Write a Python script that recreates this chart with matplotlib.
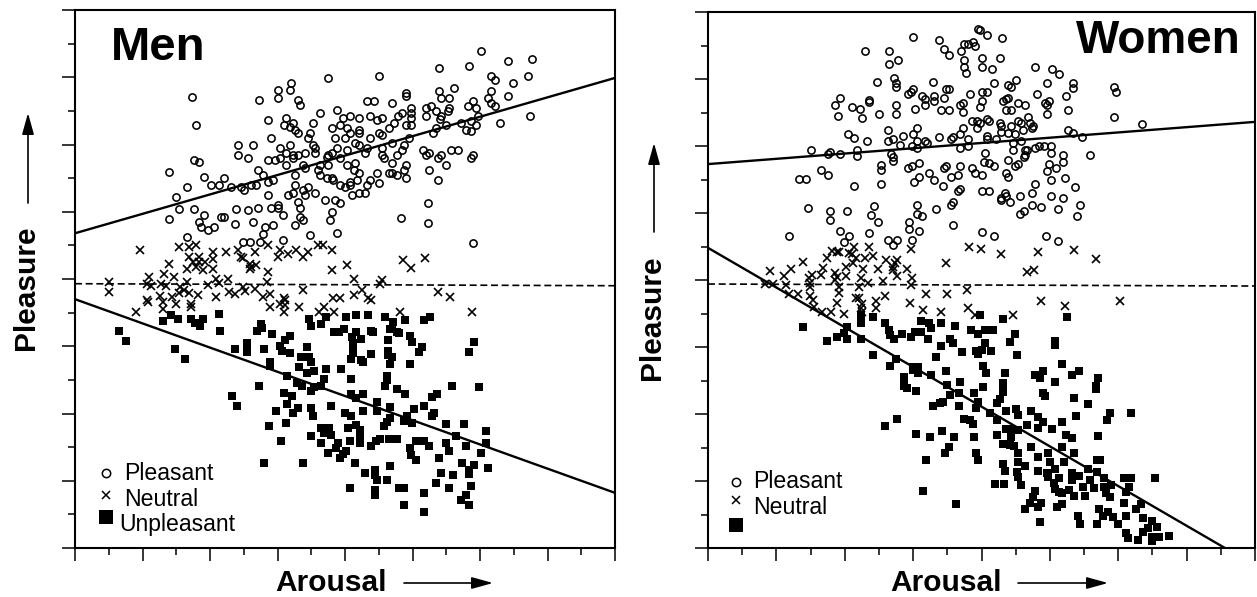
import numpy as np
import matplotlib
matplotlib.use("Agg")
import matplotlib.pyplot as plt
from matplotlib.ticker import MultipleLocator

plt.rcParams['font.family'] = ['Liberation Sans', 'DejaVu Sans']

# Digitised readings (column, row) taken from enlarged crops of the picture.
# "upper" readings come from the top crop of a panel, "lower" from the bottom crop.
men_pleasant_upper = [(1176,152),(1253,182),(1323,176),(1056,204),(1141,197),(887,227),(740,234),(1204,227),(1217,241),(1309,227),(1267,249),(634,248),(632,269),(598,270),(598,294),(543,301),(655,301),(662,316),(352,292),(366,375),(964,280),(964,287),(1056,272),(1099,264),(1062,294),(1085,295),(1204,272),(1196,294),(1253,288),(1206,308),(1217,317),(851,302),(873,302),(922,310),(1154,302),(1140,317),(1161,324),(1034,317),(1019,323),(1048,332),(1084,323),(1083,332),(978,323),(978,338),(978,354),(950,338),(941,347),(1019,347),(1062,347),(1060,356),(1315,347),(1168,347),(1147,362),(1119,369),(1231,370),(767,331),(719,339),(620,353),(570,360),(614,376),(640,370),(632,382),(646,390),(655,398),(698,368),(690,398),(684,413),(782,354),(803,347),(830,354),(859,347),(880,361),(894,354),(775,376),(753,383),(796,383),(802,398),(830,390),(830,398),(788,413),(760,413),(859,413),(887,398),(894,405),(915,384),(929,369),(962,376),(978,376),(970,413),(1076,376),(1048,384),(1041,398),(1133,391),(1147,392),(1161,376),(577,413),(922,428),(817,428),(830,436),(957,436),(950,450),(936,466),(894,443),(851,443),(845,458),(795,451),(767,443),(753,458),(740,466),(739,471),(775,473),(704,458),(704,443),(697,436),(676,458),(655,465),(640,473),(642,465),(620,458),(633,436),(605,443),(605,473),(590,480),(570,480),(485,436),(528,436),(485,465),(514,473),(360,480),(373,487),(289,517),(387,532),(443,533),(408,554),(429,554),(338,562),(464,562),(493,562),(500,570),(521,555),(535,554),(570,547),(584,540),(542,510),(556,525),(620,495),(648,525),(670,495),(676,503),(718,495),(711,510),(718,525),(740,495),(738,533),(753,533),(754,541),(795,495),(817,489),(816,510),(830,518),(823,540),(803,547),(802,555),(775,555),(788,562),(809,585),(830,578),(845,578),(851,555),(859,540),(880,518),(887,548),(894,466),(900,473),(922,489),(915,518),(922,518),(936,525),(957,510),(964,495),(964,533),(1012,451),(1027,458),(1019,466),(1062,466),(1055,473),(1090,451),(1111,451),(1154,466),(1147,473),(1076,495),(1027,510),(1055,540),(309,592),(316,628),(358,628),(387,644),(289,658),(373,665),(378,680),(400,690),(415,680),(435,652),(443,652),(478,628),(514,630),(541,623),(577,623),(598,614),(598,623),(612,644),(477,673),(528,666),(562,682),(584,674),(556,703),(647,674),(660,652),(668,660),(654,607),(662,623),(626,585),(640,578),(648,555),(668,570),(684,562),(676,585),(704,578),(732,600),(760,600),(774,608),(753,637),(746,660),(570,584),(690,705),(767,698),(949,654),(1026,608),(1026,668),(338,712),(499,727),(519,727),(548,727),(612,720),(1153,729)]

men_neutral_upper = [(204,749),(316,741),(345,741),(366,734),(414,756),(450,756),(485,749),(534,756),(570,734),(605,749),(597,770),(626,763),(650,749),(668,770),(684,756),(711,735),(725,735),(752,749),(752,810),(795,795),(955,780),(976,803),(1018,773),(287,793),(345,770),(372,770),(372,785),(390,785),(414,778),(357,785),(338,807),(365,800),(385,810),(414,807),(492,770),(498,775),(518,792),(535,795),(518,807),(520,800),(570,817),(232,830),(273,823),(302,830),(225,852),(237,858),(266,852),(280,858),(338,845),(400,855),(421,838),(430,850),(457,838),(568,845),(816,838),(895,840),(890,853),(118,845),(118,875),(320,860),(330,870),(315,880),(345,880),(369,885),(421,890),(458,875),(477,883),(498,860),(505,873),(533,867),(575,882),(668,870),(836,870),(815,885),(1053,877),(1089,890),(262,888),(295,890),(555,892),(615,895),(755,895),(775,895),(855,895),(225,900),(228,905),(193,935),(271,907),(271,927),(308,912),(351,912),(349,920),(574,922),(604,912),(618,900),(618,915),(616,937),(658,922),(728,922),(714,937),(758,937),(862,900),(946,937),(1151,937)]

men_unpleasant_lower = [(138,153),(159,184),(300,207),(328,236),(287,104),(265,124),(307,117),(343,117),(356,130),(378,117),(370,138),(425,103),(427,154),(469,208),(503,190),(503,204),(503,217),(545,132),(546,145),(531,154),(553,208),(574,162),(570,245),(570,258),(625,168),(612,180),(598,198),(604,212),(625,220),(674,202),(681,118),(687,139),(716,132),(730,111),(786,111),(814,104),(849,104),(898,111),(954,119),(1009,119),(1024,112),(919,125),(918,146),(912,148),(932,155),(905,180),(938,160),(968,168),(974,186),(1003,202),(995,216),(751,155),(766,155),(780,148),(814,155),(802,170),(828,178),(805,190),(805,205),(805,218),(856,222),(799,238),(828,240),(835,245),(858,152),(862,155),(905,212),(905,225),(918,232),(912,252),(967,253),(658,230),(680,230),(687,245),(652,260),(674,280),(695,274),(729,267),(771,267),(617,288),(799,297),(722,297),(904,288),(896,318),(904,300),(645,310),(660,318),(716,318),(695,320),(687,332),(538,318),(610,340),(632,347),(617,372),(460,348),(475,378),(932,327),(953,342),(800,342),(833,342),(813,355),(1045,342),(1030,350),(1087,319),(1164,320),(1151,187),(1136,217),(875,365),(910,380),(875,392),(833,393),(742,379),(685,385),(692,407),(650,385),(636,400),(587,393),(784,400),(799,407),(980,386),(1008,379),(1036,400),(1030,407),(960,407),(950,422),(974,430),(910,414),(904,425),(895,437),(1072,431),(1121,431),(566,437),(615,430),(792,443),(813,436),(827,450),(716,445),(737,445),(722,458),(744,465),(827,465),(685,467),(600,482),(1100,467),(1184,453),(1185,490),(715,490),(764,490),(757,503),(797,483),(825,490),(856,497),(870,483),(883,476),(908,476),(932,476),(985,483),(1009,483),(1022,497),(1072,490),(1078,512),(1128,497),(1171,520),(967,505),(972,525),(986,541),(1050,534),(785,512),(778,522),(735,519),(768,533),(552,548),(664,548),(812,549),(1115,549),(1150,556),(1135,570),(1135,582),(1191,565),(840,578),(868,570),(868,585),(875,600),(903,600),(912,557),(1057,578),(1092,586),(1142,617),(1043,608),(797,624),(868,630),(868,645),(938,624),(952,624),(1078,624),(1008,638),(1128,645),(1114,660),(1135,675),(952,675),(1008,697)]

women_pleasant_upper = [(798,86),(802,90),(823,105),(866,113),(612,112),(687,119),(702,146),(714,166),(757,133),(768,133),(783,126),(790,139),(748,153),(475,152),(543,152),(543,193),(571,179),(757,180),(757,200),(763,220),(809,173),(809,200),(859,173),(838,207),(961,200),(1008,207),(1029,221),(844,248),(906,241),(884,255),(892,262),(993,248),(1069,248),(1069,263),(1184,262),(1191,276),(509,247),(557,234),(564,248),(564,262),(668,247),(612,267),(608,275),(597,282),(705,268),(714,268),(775,282),(808,275),(823,275),(967,282),(1048,289),(404,294),(390,314),(439,321),(460,328),(487,300),(487,306),(398,349),(466,355),(515,342),(564,315),(564,342),(618,328),(639,289),(646,296),(646,315),(672,289),(672,302),(702,295),(693,329),(714,329),(747,315),(755,309),(755,336),(810,302),(803,322),(868,302),(884,295),(878,296),(878,329),(892,329),(912,309),(933,316),(988,310),(1000,302),(993,316),(1055,330),(993,343),(939,350),(1184,351),(781,363),(794,363),(802,370),(796,383),(823,356),(830,363),(859,370),(864,377),(892,377),(912,363),(919,370),(945,370),(953,377),(952,384),(925,391),(755,383),(625,383),(542,389),(611,403),(426,402),(445,415),(480,423),(584,409),(556,416),(542,423),(625,423),(646,423),(651,430),(576,436),(609,437),(625,444),(686,410),(720,416),(727,410),(747,403),(768,416),(768,437),(747,444),(822,409),(822,416),(850,416),(864,397),(884,400),(904,403),(898,430),(919,423),(1053,391),(1068,398),(1095,411),(1265,371),(323,450),(369,463),(377,457),(404,463),(453,450),(453,469),(549,463),(556,470),(556,484),(898,451),(933,450),(938,450),(933,465),(930,472),(960,444),(972,437),(986,437),(1007,438),(1007,458),(817,459),(1116,465),(1040,465),(1040,486),(884,479),(520,495),(520,510),(597,505),(610,497),(630,490),(700,505),(706,498),(747,498),(815,486),(829,490),(842,498),(781,505),(788,518),(808,526),(658,518),(630,532),(616,545),(671,539),(720,532),(740,525),(904,498),(911,491),(877,518),(883,532),(999,491),(993,512),(1020,505),(1005,540),(1047,533),(349,511),(369,525),(287,538),(307,538),(445,558),(520,551),(699,559),(747,566),(740,573),(808,573),(829,573),(959,553),(951,580),(1074,561),(876,580),(877,588),(918,587),(1006,587),(1040,594),(863,594),(863,601),(890,607),(951,615),(978,621),(727,607),(720,614),(624,614),(678,627),(625,641),(637,647),(500,619),(492,646),(514,666),(424,633),(376,633),(376,659),(314,625),(930,634),(916,641),(1026,628),(1088,615),(1080,648),(602,667),(602,687),(630,694),(725,674),(404,694),(486,700),(431,708),(417,727),(259,707),(808,695),(842,708),(610,721),(541,721),(568,721),(556,735),(992,709),(1026,722)]

women_neutral_upper = [(204,813),(245,827),(266,806),(300,787),(367,773),(382,753),(395,757),(402,757),(430,760),(445,740),(438,762),(486,740),(450,775),(475,775),(498,768),(534,781),(568,781),(608,747),(705,788),(772,741),(807,748),(863,761),(970,756),(1072,749),(1133,776),(937,817),(957,810),(596,808),(554,800),(560,790),(556,810),(567,828),(512,808),(471,808),(440,790),(420,800),(420,828),(355,805),(350,825),(325,825),(315,835),(390,820),(395,830),(390,840),(465,835),(610,835),(190,853),(212,853),(250,855),(318,850),(320,860),(402,860),(457,860),(483,850),(527,843),(607,855),(765,870),(648,882),(710,882),(258,882),(284,882),(320,888),(402,880),(451,893),(533,888),(396,908),(458,895),(466,912),(463,925),(468,935),(506,902),(506,925),(603,908),(640,930),(691,937),(768,924),(788,945),(896,944),(978,904),(1046,917),(1203,904),(416,942),(378,935),(353,937),(330,920),(328,900)]

women_unpleasant_lower = [(291,142),(360,183),(388,170),(408,160),(415,140),(415,176),(457,176),(457,128),(457,105),(491,110),(490,224),(525,130),(535,150),(540,165),(550,178),(572,163),(600,170),(610,155),(628,122),(628,155),(650,130),(655,145),(648,177),(683,130),(683,197),(669,231),(710,176),(717,190),(724,137),(743,217),(771,150),(790,163),(810,150),(833,150),(795,104),(862,117),(895,163),(880,185),(900,225),(1044,110),(1010,183),(1010,195),(810,190),(800,210),(785,212),(827,212),(790,222),(555,236),(538,258),(605,262),(620,262),(620,280),(605,270),(655,285),(697,272),(578,290),(578,305),(580,318),(587,325),(614,332),(805,258),(813,280),(866,279),(860,310),(860,322),(860,335),(805,320),(737,305),(702,315),(736,338),(710,345),(778,338),(790,365),(785,385),(660,378),(680,370),(690,367),(736,379),(852,358),(845,370),(825,400),(845,420),(870,393),(898,388),(905,405),(940,392),(953,285),(975,272),(967,293),(1008,305),(1030,252),(1057,285),(1077,272),(1131,293),(1125,318),(1125,328),(975,340),(982,347),(1063,353),(1103,373),(1069,407),(1165,400),(1158,420),(1226,400),(558,418),(524,437),(750,418),(767,420),(775,432),(613,462),(654,472),(688,452),(722,472),(777,472),(845,465),(960,412),(975,425),(961,445),(1030,427),(1001,446),(928,435),(885,447),(870,447),(905,450),(885,470),(1041,466),(1058,473),(1131,467),(860,492),(880,495),(892,497),(905,518),(708,500),(695,518),(783,518),(790,540),(640,540),(940,500),(1029,500),(960,532),(988,518),(1063,518),(1035,545),(995,545),(905,545),(925,558),(860,552),(868,572),(900,575),(1008,567),(960,572),(985,580),(990,592),(1103,567),(1130,540),(1137,540),(1130,575),(1150,595),(1205,594),(1226,594),(1293,594),(1058,580),(1077,587),(1020,594),(1058,600),(837,613),(864,613),(905,590),(912,614),(1110,600),(1090,620),(1120,625),(1150,620),(1170,615),(1005,608),(1008,628),(1020,635),(1050,630),(1030,640),(1062,648),(1095,648),(1155,640),(1165,650),(1220,620),(1212,635),(953,632),(945,652),(970,668),(938,670),(960,680),(925,687),(1015,680),(1029,673),(632,632),(728,673),(1205,668),(1255,673),(1240,687),(1135,687),(1145,708),(1160,695),(1175,712),(1212,708),(1075,708),(1081,733),(1130,733),(966,727),(1190,733),(1260,715),(1287,722),(1300,740),(1275,745),(1260,755),(1212,760),(1218,775),(1245,780),(1287,770),(1287,782),(1305,772),(1333,768)]

# Regression lines and neutral reference, in rating units (arousal, pleasure)
men_upper_line = ([1, 9], [5.68, 7.99])
men_lower_line = ([1, 9], [4.70, 1.82])
men_neutral_line = ([1, 9], [4.93, 4.90])
women_upper_line = ([1, 9], [6.73, 7.36])
women_lower_line = ([1, 8.56], [5.48, 1.0])
women_neutral_line = ([1, 9], [4.94, 4.91])

FIG_W, FIG_H = 1257, 597
DOT, CROSS, SQUARE = 5.2, 5.8, 6.0

fig = plt.figure(figsize=(FIG_W / 100, FIG_H / 100), dpi=100, facecolor='white')


def make_axes(left, right, top, bottom):
    ax = fig.add_axes([left / FIG_W, 1 - bottom / FIG_H,
                       (right - left) / FIG_W, (bottom - top) / FIG_H])
    ax.set_xlim(1, 9)
    ax.set_ylim(1, 9)
    for axis in (ax.xaxis, ax.yaxis):
        axis.set_major_locator(MultipleLocator(1))
        axis.set_minor_locator(MultipleLocator(0.5))
    ax.tick_params(which='major', length=9.5, width=1.1, labelbottom=False, labelleft=False)
    ax.tick_params(which='minor', length=5, width=1.1)
    for s in ax.spines.values():
        s.set_linewidth(1.5)
    return ax


def to_rating(readings, x0, y0, xscale, row_top, row_scale):
    a = np.array(readings, float)
    arousal = 1 + (a[:, 0] - x0) / xscale
    pleasure = 9 - (y0 + a[:, 1] / 3 - row_top) / row_scale
    return arousal, pleasure


def draw_panel(ax, pleasant, neutral, unpleasant, lines, sq):
    ax.plot(*lines[0], color='black', lw=1.7, solid_capstyle='butt')
    ax.plot(*lines[1], color='black', lw=1.7, solid_capstyle='butt')
    ax.plot(*lines[2], color='black', lw=1.2, dashes=(4.2, 2.2))
    ax.plot(*pleasant, ls='', marker='o', ms=DOT, mfc='none', mec='black', mew=1.15)
    ax.plot(*neutral, ls='', marker='x', ms=CROSS, mec='black', mew=1.2)
    ax.plot(*unpleasant, ls='', marker='s', ms=sq, mfc='black', mec='black', mew=0)


def legend_mark(x, y, **kw):
    fig.add_artist(plt.Line2D([x / FIG_W], [1 - y / FIG_H], ls='', color='black', **kw))


def label(x, y, s, **kw):
    fig.text(x / FIG_W, 1 - y / FIG_H, s, color='black', **kw)


def arrow(x0, y0, x1, y1):
    fig.add_artist(matplotlib.patches.FancyArrowPatch(
        (x0 / FIG_W, 1 - y0 / FIG_H), (x1 / FIG_W, 1 - y1 / FIG_H),
        transform=fig.transFigure, arrowstyle='-|>,head_length=13,head_width=3.6',
        lw=1.2, color='black', shrinkA=0, shrinkB=0, mutation_scale=1))


men_ax = make_axes(75, 615, 10, 548)
women_ax = make_axes(708, 1255, 12, 548)

MEN_X = 192.25
WOMEN_X = 194.9
MEN_R = 538 / 8
WOMEN_R = 536 / 8

draw_panel(men_ax,
           to_rating(men_pleasant_upper, 20, 0, MEN_X, 10, MEN_R),
           to_rating(men_neutral_upper, 20, 0, MEN_X, 10, MEN_R),
           to_rating(men_unpleasant_lower, 14, 280, MEN_X, 10, MEN_R),
           (men_upper_line, men_lower_line, men_neutral_line), SQUARE)
draw_panel(women_ax,
           to_rating(women_pleasant_upper, 28, 0, WOMEN_X, 12, WOMEN_R),
           to_rating(women_neutral_upper, 28, 0, WOMEN_X, 12, WOMEN_R),
           to_rating(women_unpleasant_lower, 20, 280, WOMEN_X, 12, WOMEN_R),
           (women_upper_line, women_lower_line, women_neutral_line), SQUARE + 0.2)

# Panel titles
label(111, 48, 'Men', fontsize=34, fontweight='bold', ha='left', va='center')
label(1241, 41, 'Women', fontsize=33, fontweight='bold', ha='right', va='center')

# Axis labels
label(331, 583, 'Arousal', fontsize=21.5, fontweight='bold', ha='center', va='center')
label(946, 583, 'Arousal', fontsize=21.5, fontweight='bold', ha='center', va='center')
label(26, 288, 'Pleasure', fontsize=21.5, fontweight='bold', rotation=90, ha='center', va='center')
label(652, 318, 'Pleasure', fontsize=21.5, fontweight='bold', rotation=90, ha='center', va='center')
arrow(404, 583, 493, 583)
arrow(1018, 583, 1108, 583)
arrow(28, 203, 28, 113)
arrow(654, 232, 654, 143)

# Legends
legend_mark(106, 473, marker='o', ms=6, mfc='none', mew=1.1)
legend_mark(106, 495, marker='x', ms=CROSS, mew=1.1)
legend_mark(106, 517, marker='s', ms=10.5, mew=0)
label(124, 473, 'Pleasant', fontsize=16.6, ha='left', va='center')
label(124, 499, 'Neutral', fontsize=16.6, ha='left', va='center')
label(119, 525, 'Unpleasant', fontsize=16.6, ha='left', va='center')

legend_mark(736, 482, marker='o', ms=6, mfc='none', mew=1.1)
legend_mark(736, 500, marker='x', ms=CROSS, mew=1.1)
legend_mark(736, 525, marker='s', ms=10.5, mew=0)
label(753, 482, 'Pleasant', fontsize=16.6, ha='left', va='center')
label(753, 508, 'Neutral', fontsize=16.6, ha='left', va='center')

fig.savefig('out.png', dpi=100, facecolor='white')
